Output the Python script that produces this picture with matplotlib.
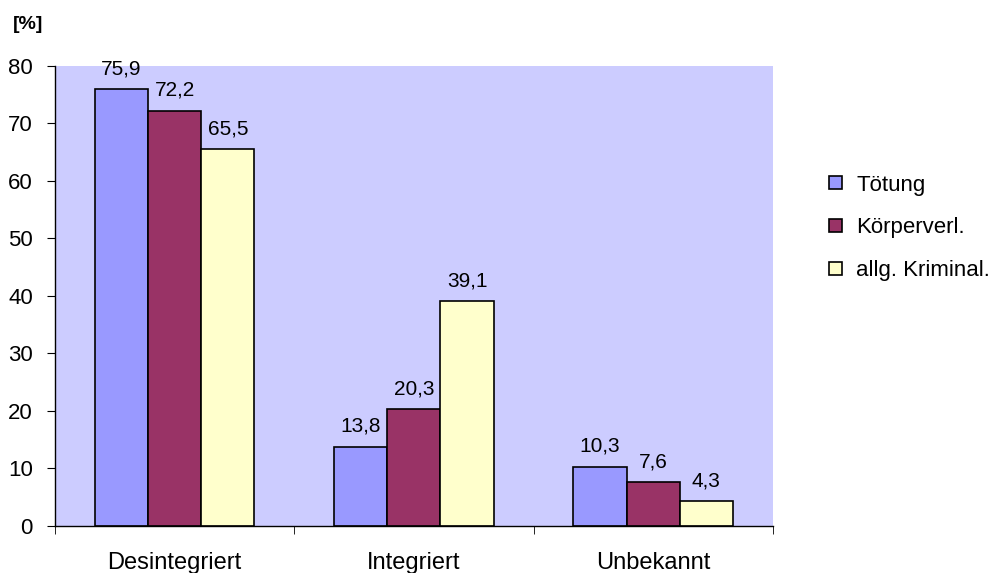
import matplotlib.pyplot as plt
import numpy as np

plt.rcParams['font.family'] = ['Liberation Sans', 'DejaVu Sans']

kategorien = ['Desintegriert', 'Integriert', 'Unbekannt']
serien = ['Tötung', 'Körperverl.', 'allg. Kriminal.']
toetung = [75.9, 13.8, 10.3]
koerperverl = [72.2, 20.3, 7.6]
kriminal = [65.5, 39.1, 4.3]
farben = ['#9999FF', '#993366', '#FFFFCC']

fig = plt.figure(figsize=(10.01, 5.73), dpi=100)
ax = fig.add_axes([0.055, 0.082, 0.717, 0.803])
ax.set_facecolor('#CCCCFF')

x = np.arange(len(kategorien))
w = 0.222
for i, (werte, name) in enumerate(zip([toetung, koerperverl, kriminal], serien)):
    pos = x + (i - 1) * w
    ax.bar(pos, werte, width=w, color=farben[i], edgecolor='black', linewidth=1.2,
           label=name, zorder=2)
    for px, v in zip(pos, werte):
        ax.annotate(f'{v:.1f}'.replace('.', ','), (px, v), xytext=(0, 8),
                    textcoords='offset points', ha='center', va='bottom', fontsize=15)

ax.set_xlim(-0.5, 2.5)
ax.set_ylim(0, 80)
ax.set_yticks(range(0, 81, 10))
ax.set_xticks(x)
ax.set_xticklabels(kategorien, fontsize=17)
ax.set_xticks([-0.5, 0.5, 1.5, 2.5], minor=True)
ax.tick_params(axis='x', which='major', length=0, pad=19)
ax.tick_params(axis='x', which='minor', length=6, direction='out')
ax.tick_params(axis='y', labelsize=16, length=6, direction='out', pad=10)
for s in ['top', 'right']:
    ax.spines[s].set_visible(False)
ax.spines['left'].set_linewidth(1)
ax.spines['bottom'].set_linewidth(1)

fig.text(0.013, 0.942, '[%]', fontsize=14, fontweight='bold', va='bottom')

ax.legend(loc='center left', bbox_to_anchor=(1.079, 0.648), frameon=False, fontsize=16,
          handlelength=0.55, handleheight=0.55, labelspacing=0.98, handletextpad=0.65,
          borderaxespad=0, borderpad=0)

fig.savefig('out.png', dpi=100)
